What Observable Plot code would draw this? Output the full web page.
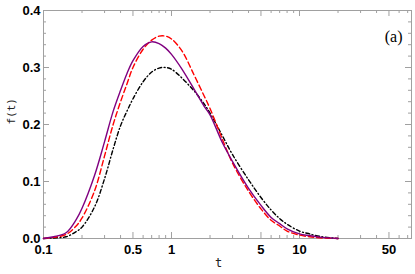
<!DOCTYPE html>
<html>
<head>
<meta charset="utf-8">
<script src="https://cdn.jsdelivr.net/npm/d3@7"></script>
<script src="https://cdn.jsdelivr.net/npm/@observablehq/plot@0.6"></script>
<style>
  html, body { margin: 0; padding: 0; background: #fff; }
  #chart svg { display: block; }
</style>
</head>
<body>
<div id="chart"></div>
<script>
// ---- data ----
const tValues = [0.1, 0.12, 0.15, 0.18, 0.2, 0.25, 0.3, 0.35, 0.4, 0.45, 0.5, 0.6, 0.7, 0.8, 0.9, 1.0, 1.2, 1.5, 1.8, 2, 2.5, 3, 4, 5, 6, 7, 8, 10, 12, 15, 20];
const purpleSeries = [0.000, 0.003, 0.010, 0.033, 0.053, 0.110, 0.170, 0.223, 0.260, 0.290, 0.312, 0.337, 0.345, 0.342, 0.334, 0.323, 0.298, 0.262, 0.232, 0.217, 0.168, 0.135, 0.088, 0.058, 0.037, 0.026, 0.017, 0.008, 0.005, 0.002, 0.000];
const redSeries    = [0.000, 0.002, 0.007, 0.022, 0.036, 0.083, 0.145, 0.200, 0.240, 0.272, 0.300, 0.332, 0.348, 0.355, 0.355, 0.350, 0.330, 0.287, 0.250, 0.228, 0.174, 0.132, 0.083, 0.052, 0.032, 0.022, 0.013, 0.006, 0.003, 0.001, 0.000];
const blackSeries  = [0.000, 0.001, 0.003, 0.012, 0.020, 0.055, 0.105, 0.157, 0.198, 0.224, 0.245, 0.275, 0.292, 0.299, 0.300, 0.297, 0.282, 0.259, 0.236, 0.220, 0.180, 0.147, 0.103, 0.072, 0.050, 0.035, 0.025, 0.013, 0.008, 0.003, 0.000];

const xTickLabels = [0.1, 0.5, 1, 5, 10, 50];
const xMinorTicks = [0.2, 0.3, 0.4, 0.6, 0.7, 0.8, 0.9, 2, 3, 4, 6, 7, 8, 9, 20, 30, 40, 60, 70];
const yTickLabels = [0, 0.1, 0.2, 0.3, 0.4];
const yMinorTicks = [0.02, 0.04, 0.06, 0.08, 0.12, 0.14, 0.16, 0.18, 0.22, 0.24, 0.26, 0.28, 0.32, 0.34, 0.36, 0.38];
const panelLabel = "(a)";
const xLabel = "t";
const yLabel = "f(t)";

// ---- layout ----
const W = 415, H = 274;
const mL = 43, mR = 4, mT = 10, mB = 36;
const innerW = W - mL - mR, innerH = H - mT - mB;
const major = 6, minor = 3;
const frameColor = "#a0a0a0";
const tickFont = "Liberation Sans, Arial, Helvetica, sans-serif";

const rows = (vals, name) => tValues.map((t, i) => ({t, f: vals[i], s: name}));
const purple = rows(purpleSeries, "purple");
const red = rows(redSeries, "red");
const black = rows(blackSeries, "black");

const chart = Plot.plot({
  width: W,
  height: H,
  marginLeft: mL, marginRight: mR, marginTop: mT, marginBottom: mB,
  style: {background: "#fff", fontFamily: tickFont, fontSize: "12px", color: "#000", overflow: "visible"},
  x: {type: "log", domain: [0.1, 75], axis: null},
  y: {domain: [0, 0.4], axis: null},
  marks: [
    // inward ticks, bottom and top
    Plot.ruleX(xTickLabels, {x: d => d, insetTop: innerH - major, stroke: frameColor}),
    Plot.ruleX(xMinorTicks, {x: d => d, insetTop: innerH - minor, stroke: frameColor}),
    Plot.ruleX(xTickLabels, {x: d => d, insetBottom: innerH - major, stroke: frameColor}),
    Plot.ruleX(xMinorTicks, {x: d => d, insetBottom: innerH - minor, stroke: frameColor}),
    // inward ticks, left and right
    Plot.ruleY(yTickLabels, {y: d => d, insetRight: innerW - major, stroke: frameColor}),
    Plot.ruleY(yMinorTicks, {y: d => d, insetRight: innerW - minor, stroke: frameColor}),
    Plot.ruleY(yTickLabels, {y: d => d, insetLeft: innerW - major, stroke: frameColor}),
    Plot.ruleY(yMinorTicks, {y: d => d, insetLeft: innerW - minor, stroke: frameColor}),
    Plot.frame({stroke: frameColor}),
    // tick labels
    Plot.text(xTickLabels, {x: d => d, text: d => String(d), frameAnchor: "bottom", dy: 11, lineAnchor: "middle", fontWeight: "bold", fontSize: 13, fontFamily: tickFont, fill: "#000"}),
    Plot.text(yTickLabels, {y: d => d, text: d => d3.format(".1f")(d), frameAnchor: "left", dx: -3, textAnchor: "end", lineAnchor: "middle", fontWeight: "bold", fontSize: 13, fontFamily: tickFont, fill: "#000"}),
    // curves
    Plot.line(black, {x: "t", y: "f", stroke: "#000", strokeWidth: 1.4, strokeDasharray: "4,2.5,1,2.5", curve: "catmull-rom"}),
    Plot.line(red, {x: "t", y: "f", stroke: "#ff0000", strokeWidth: 1.4, strokeDasharray: "5.5,3", curve: "catmull-rom"}),
    Plot.line(purple, {x: "t", y: "f", stroke: "#800080", strokeWidth: 1.4, curve: "catmull-rom"}),
    // texts
    Plot.text([panelLabel], {text: d => d, frameAnchor: "top-right", dx: -9, dy: 20, textAnchor: "end", fontFamily: "Liberation Serif, Times New Roman, serif", fontSize: 16, fill: "#000"}),
    Plot.text([xLabel], {text: d => d, frameAnchor: "bottom", dx: -9, dy: 28, fontFamily: "DejaVu Sans Mono, monospace", fontSize: 12, fill: "#222"}),
    Plot.text([yLabel], {text: d => d, frameAnchor: "left", dx: -32, rotate: -90, fontFamily: "DejaVu Sans Mono, monospace", fontSize: 11, fill: "#222"})
  ]
});
document.getElementById("chart").appendChild(chart);
</script>
</body>
</html>
